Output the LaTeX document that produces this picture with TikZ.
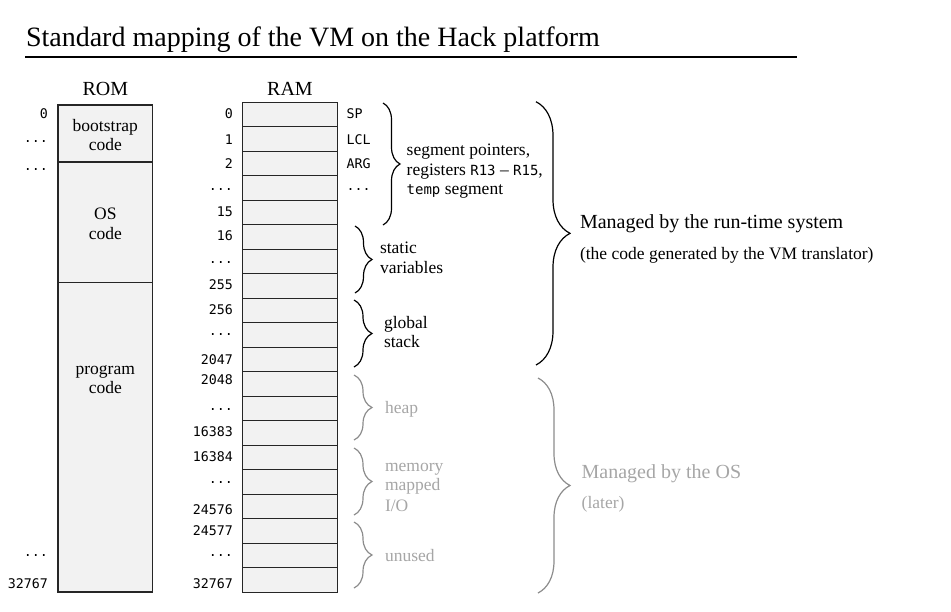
\documentclass[tikz,border=0pt]{standalone}
\usepackage{fontspec}
\setmainfont{Liberation Serif}
\setmonofont{DejaVu Sans Mono}
\usetikzlibrary{decorations.pathreplacing}
\definecolor{cellfill}{HTML}{F2F2F2}
\definecolor{osgray}{HTML}{A6A6A6}
\definecolor{bracegray}{HTML}{8C8C8C}
\definecolor{edge}{HTML}{262626}
\newcommand{\mdots}{...}
\newcommand{\rtt}[1]{{\ttfamily\fontsize{14}{20}\selectfont #1}}
\begin{document}
\begin{tikzpicture}[x=1pt,y=-1pt,
  every node/.style={inner sep=0pt,outer sep=0pt},
  cell/.style={draw=edge,fill=cellfill,line width=1.1pt,minimum width=95pt,minimum height=24.49pt},
  rombox/.style={draw=edge,fill=cellfill,line width=1.1pt,minimum width=94.7pt},
  addr/.style={font=\ttfamily\fontsize{13.3}{16}\selectfont,anchor=east},
  reg/.style={font=\ttfamily\fontsize{13.3}{16}\selectfont,anchor=west},
  head/.style={font=\fontsize{20}{24}\selectfont,anchor=base},
  boxtext/.style={font=\fontsize{17.5}{20}\selectfont,anchor=base},
  lbl/.style={font=\fontsize{17.5}{20}\selectfont,anchor=base west},
  oslbl/.style={lbl,text=osgray},
  bigtext/.style={font=\fontsize{20}{24}\selectfont,anchor=base west},
  bkbrace/.style={decorate,decoration={brace,amplitude=#1},line width=1.2pt,draw=black},
  grbrace/.style={decorate,decoration={brace,amplitude=#1},line width=1.2pt,draw=bracegray},
]
\useasboundingbox (0,0) rectangle (951,611);

% title
\node[font=\fontsize{28}{32}\selectfont,anchor=base west] (title) at (26,46.7) {Standard mapping of the VM on the Hack platform};
\coordinate (ulA) at (25,56.7);
\coordinate (ulB) at (797,56.7);
\draw[line width=2.2pt] (ulA) -- (ulB);

% headers
\node[head] (romh) at (105.3,95) {ROM};
\node[head] (ramh) at (290,95) {RAM};

% ROM
\node[rombox,anchor=north west,minimum height=57pt] (boot) at (58,105) {};
\node[rombox,anchor=north west,minimum height=120.7pt] (os) at (58,162) {};
\node[rombox,anchor=north west,minimum height=309.3pt] (prog) at (58,282.7) {};
\node[boxtext] (boot1) at (105.3,131) {bootstrap};
\node[boxtext] (boot2) at (105.3,150.5) {code};
\node[boxtext] (os1) at (105.3,219.3) {OS};
\node[boxtext] (os2) at (105.3,239) {code};
\node[boxtext] (prog1) at (105.3,374) {program};
\node[boxtext] (prog2) at (105.3,393.5) {code};

\node[addr] (ra0) at (48,114) {0};
\node[addr] (ra1) at (48,141.7) {\mdots};
\node[addr] (ra2) at (48,170) {\mdots};
\node[addr] (ra3) at (48,555.3) {\mdots};
\node[addr] (ra4) at (48,583.3) {32767};

% RAM
\foreach \i in {0,...,19} {
  \node[cell,anchor=north west] (r\i) at (242.7,{102.3+24.49*\i}) {};
}
\foreach \i/\t/\y in {0/0/114, 1/1/139.3, 2/2/163.3, 3/\mdots/189.3, 4/15/211.7,
  5/16/235.7, 6/\mdots/262.7, 7/255/285, 8/256/310, 9/\mdots/335, 10/2047/359.3,
  11/2048/379.3, 12/\mdots/409.3, 13/16383/431.7, 14/16384/456.7, 15/\mdots/482.7,
  16/24576/509.3, 17/24577/530.7, 18/\mdots/555.3, 19/32767/583.3} {
  \node[addr] (a\i) at (233,\y) {\t};
}

\node[reg] (sp) at (346.7,114) {SP};
\node[reg] (lcl) at (346.7,139.3) {LCL};
\node[reg] (arg) at (346.7,163.3) {ARG};
\node[reg] (regdots) at (346.7,189.3) {\mdots};

% braces (run-time system)
\draw[bkbrace=17pt] (383,103) -- (383,225);
\draw[bkbrace=17pt] (355,226) -- (355,293);
\draw[bkbrace=18pt] (354,300) -- (354,367);
\draw[bkbrace=34pt] (536,101.7) -- (536,365);

\node[lbl] (seg1) at (406.7,155) {segment pointers,};
\node[lbl] (seg2) at (406.7,175) {registers \rtt{R13} -- \rtt{R15},};
\node[lbl] (seg3) at (406.7,194) {\rtt{temp} segment};
\node[lbl] (st1) at (380,253) {static};
\node[lbl] (st2) at (380,273) {variables};
\node[lbl] (gl1) at (384,328.3) {global};
\node[lbl] (gl2) at (384,347.3) {stack};
\node[bigtext] (rts) at (580,228.3) {Managed by the run-time system};
\node[lbl] (rtssub) at (580,259.3) {(the code generated by the VM translator)};

% braces (OS)
\draw[grbrace=18pt] (354,375) -- (354,440);
\draw[grbrace=18pt] (354,448) -- (354,515);
\draw[grbrace=18pt] (354,522) -- (354,588);
\draw[grbrace=32pt] (538,378) -- (538,593);

\node[oslbl] (heap) at (385,413.3) {heap};
\node[oslbl] (mm1) at (385,471) {memory};
\node[oslbl] (mm2) at (385,490.7) {mapped};
\node[oslbl] (mm3) at (385,511.7) {I/O};
\node[oslbl] (unused) at (385,561.7) {unused};
\node[bigtext,text=osgray] (osm) at (581.7,478.3) {Managed by the OS};
\node[oslbl] (later) at (581.7,508.3) {(later)};
\end{tikzpicture}
\end{document}
